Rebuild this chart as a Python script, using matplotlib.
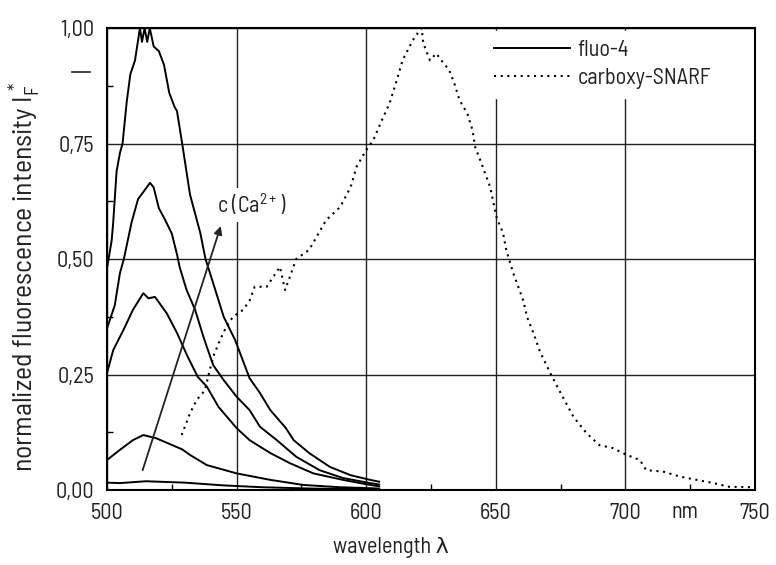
import numpy as np
import matplotlib
matplotlib.use("Agg")
import matplotlib.pyplot as plt
from matplotlib.lines import Line2D

FONT = 'Barlow Semi Condensed'
plt.rcParams['font.family'] = [FONT, 'DejaVu Sans']
plt.rcParams['mathtext.fontset'] = 'custom'
plt.rcParams['mathtext.rm'] = FONT
plt.rcParams['mathtext.it'] = FONT
TXT = '#222222'

# fluo-4 spectra, increasing Ca2+ concentration
wl1 = [500, 501.8, 502.4, 503.7, 505, 506, 507.6, 509, 510.8, 512.7, 513.5, 514.5, 515.5, 516.5,
       518, 520, 522, 524, 526, 527, 529, 532, 536, 538, 541, 545, 549.4, 555, 559, 563, 569,
       572, 578, 586, 594, 601.5, 605]
v1 = [0.48, 0.54, 0.58, 0.69, 0.73, 0.75, 0.84, 0.90, 0.93, 1.0, 0.97, 1.0, 0.97, 1.0,
      0.96, 0.95, 0.92, 0.86, 0.83, 0.82, 0.75, 0.64, 0.556, 0.50, 0.447, 0.375, 0.325, 0.242,
      0.21, 0.173, 0.134, 0.108, 0.08, 0.05, 0.032, 0.022, 0.018]

wl2 = [500, 503, 505, 506.5, 509.5, 512, 514, 516.6, 518, 520, 522.4, 525, 527, 528, 530.7,
       534, 537, 538.5, 541, 545, 550, 555, 559, 565.5, 573, 582, 591, 601.5, 605]
v2 = [0.35, 0.40, 0.47, 0.50, 0.58, 0.63, 0.645, 0.665, 0.655, 0.61, 0.585, 0.555, 0.51, 0.483,
      0.433, 0.39, 0.335, 0.31, 0.27, 0.238, 0.202, 0.173, 0.137, 0.108, 0.072, 0.043, 0.026,
      0.015, 0.012]

wl3 = [500, 502.4, 506.3, 510, 514, 516, 518.5, 523, 527, 531, 535, 538.5, 543, 550, 555, 563,
       570.6, 579.6, 591, 601.5, 605]
v3 = [0.253, 0.303, 0.346, 0.39, 0.426, 0.415, 0.418, 0.383, 0.34, 0.29, 0.245, 0.224, 0.18,
      0.134, 0.108, 0.08, 0.058, 0.036, 0.022, 0.011, 0.008]

wl4 = [500, 505, 510, 514, 519, 524, 529, 532, 538.5, 550, 563, 575.7, 590, 601.5, 605]
v4 = [0.065, 0.087, 0.108, 0.119, 0.112, 0.1, 0.088, 0.076, 0.054, 0.036, 0.022, 0.011, 0.006,
      0.004, 0.003]

wl5 = [500, 505, 515, 530, 545, 560, 580, 605]
v5 = [0.016, 0.015, 0.019, 0.016, 0.01, 0.006, 0.003, 0.002]

# carboxy-SNARF spectrum
wl_s = [528.8, 532, 534.6, 537.8, 539, 541, 543.6, 546, 548.6, 552.5, 555, 557, 561.6, 566.7,
        568.7, 573, 578, 584.5, 590, 594, 596.3, 600, 602.7, 606, 609, 611.8, 614, 618, 620,
        621.4, 622, 624.6, 627, 629, 632, 634, 636, 639, 641, 642, 644, 647.8, 650.3, 652.8,
        654, 656.7, 660.6, 662, 664.5, 667, 671, 675, 680, 685, 690, 695, 700.5, 705.6, 708,
        714.5, 721, 727.5, 734, 740, 749]
v_s = [0.119, 0.166, 0.195, 0.216, 0.245, 0.289, 0.325, 0.353, 0.375, 0.39, 0.41, 0.44, 0.44,
       0.483, 0.433, 0.50, 0.52, 0.584, 0.613, 0.656, 0.70, 0.736, 0.757, 0.80, 0.837, 0.887,
       0.93, 0.974, 0.99, 1.0, 0.967, 0.93, 0.945, 0.93, 0.909, 0.88, 0.844, 0.815, 0.779,
       0.743, 0.714, 0.656, 0.59, 0.556, 0.52, 0.47, 0.41, 0.375, 0.34, 0.30, 0.253, 0.21,
       0.158, 0.123, 0.097, 0.091, 0.076, 0.065, 0.043, 0.04, 0.029, 0.022, 0.015, 0.007, 0.006]

x_ticks = [500, 550, 600, 650, 700, 750]
y_ticks = [0, 0.25, 0.5, 0.75, 1.0]
y_labels = ['0,00', '0,25', '0,50', '0,75', '1,00']

fig = plt.figure(figsize=(7.76, 5.65), dpi=100)
ax = fig.add_axes([0.1379, 0.1327, 0.8351, 0.8177])

ax.set_xlim(500, 750)
ax.set_ylim(0, 1)
ax.set_xticks(x_ticks)
ax.set_yticks(y_ticks)
ax.set_yticklabels(y_labels)
ax.set_xticks([525, 575, 625, 675, 725], minor=True)
ax.set_yticks([0.125, 0.375, 0.625, 0.875], minor=True)
ax.tick_params(which='major', length=0, labelsize=16, pad=9, colors=TXT)
ax.tick_params(which='minor', direction='in', length=4, width=1)
ax.grid(True, which='major', color=TXT, lw=1)
for s in ax.spines.values():
    s.set_linewidth(1.5)

for wl, v in [(wl1, v1), (wl2, v2), (wl3, v3), (wl4, v4), (wl5, v5)]:
    ax.plot(wl, v, color='black', lw=1.4)
ax.plot(wl_s, v_s, color='black', lw=1.5, linestyle=(0, (1, 2.2)))

ax.annotate('', xy=(544.2, 0.577), xytext=(513.4, 0.037),
            arrowprops=dict(arrowstyle='-|>', color=TXT, lw=1.3, mutation_scale=12))
ax.text(542.4, 0.60, r'c (Ca$^{2+}$)', fontsize=16, color=TXT,
        bbox=dict(facecolor='white', edgecolor='none', pad=3))

handles = [Line2D([], [], color='black', lw=1.4),
           Line2D([], [], color='black', lw=1.5, linestyle=(0, (1, 2.2)))]
leg = ax.legend(handles, ['fluo-4', 'carboxy-SNARF'], loc='upper left',
                bbox_to_anchor=(0.584, 0.993), fontsize=16, handlelength=3.4,
                handletextpad=0.35, framealpha=1, edgecolor='white', fancybox=False,
                borderaxespad=0, labelspacing=0.3)
for t in leg.get_texts():
    t.set_color(TXT)

ax.text(723, -0.048, 'nm', fontsize=16, color=TXT, ha='center', va='center')
ax.text(609.6, -0.125, 'wavelength λ', fontsize=16, color=TXT, ha='center', va='center')
ax.text(-0.127, 0.461, r'normalized fluorescence intensity I$_\mathrm{F}^{\,*}$', fontsize=20,
        color=TXT, rotation=90, ha='center', va='center', transform=ax.transAxes)

# stray dash left of the axis
ax.add_line(Line2D([-0.054, -0.026], [0.905, 0.905], transform=ax.transAxes,
                   color=TXT, lw=1.2, clip_on=False))

fig.savefig('out.png', dpi=100)
